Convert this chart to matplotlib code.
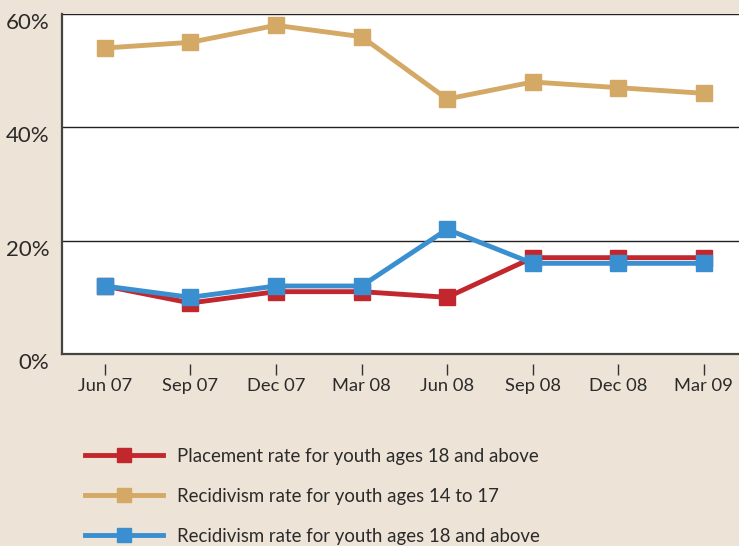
import matplotlib

matplotlib.use("Agg")
import matplotlib.pyplot as plt
import matplotlib.transforms as mtransforms

# データ
QUARTERS = ["Jun 07", "Sep 07", "Dec 07", "Mar 08", "Jun 08", "Sep 08", "Dec 08", "Mar 09"]
PLACEMENT_18_UP = [12, 9, 11, 11, 10, 17, 17, 17]
RECIDIVISM_14_17 = [54, 55, 58, 56, 45, 48, 47, 46]
RECIDIVISM_18_UP = [12, 10, 12, 12, 22, 16, 16, 16]
Y_TICKS = [0, 20, 40, 60]

LABELS = [
    "Placement rate for youth ages 18 and above",
    "Recidivism rate for youth ages 14 to 17",
    "Recidivism rate for youth ages 18 and above",
]
COLORS = ["#C1272D", "#D4A865", "#3A8FD0"]
BG = "#EDE3D6"
TEXT = "#2B2B2B"

plt.rcParams["font.family"] = ["Lato", "DejaVu Sans"]

fig = plt.figure(figsize=(7.39, 5.46), dpi=100, facecolor=BG)
ax = fig.add_axes([62 / 739, 192 / 546, 677 / 739, 340 / 546])
ax.set_facecolor("white")

xs = list(range(len(QUARTERS)))
handles = []
for values, color, label, z in [
    (PLACEMENT_18_UP, COLORS[0], LABELS[0], 3),
    (RECIDIVISM_14_17, COLORS[1], LABELS[1], 2),
    (RECIDIVISM_18_UP, COLORS[2], LABELS[2], 4),
]:
    (line,) = ax.plot(
        xs, values, color=color, linewidth=3.5, marker="s", markersize=11.5,
        label=label, zorder=z, solid_joinstyle="miter",
    )
    handles.append(line)

ax.set_xlim(-0.5, 7.41)
ax.set_ylim(0, 60)
ax.set_yticks(Y_TICKS)
ax.set_yticklabels([f"{v}%" for v in Y_TICKS], fontsize=16, color=TEXT)
ax.tick_params(axis="y", length=0, pad=9)
for v in Y_TICKS[1:]:
    ax.axhline(v, color="#222222", linewidth=1.0, zorder=1)

# ラベルを少し下にずらす
offset = mtransforms.ScaledTranslation(0, -5 / 72, fig.dpi_scale_trans)
for lbl in ax.get_yticklabels():
    lbl.set_transform(lbl.get_transform() + offset)

ax.set_xticks([])
for side in ["top", "right"]:
    ax.spines[side].set_visible(False)
for side in ["left", "bottom"]:
    ax.spines[side].set_color("#444444")
    ax.spines[side].set_linewidth(1.6)

# 軸から離れた目盛り
secax = ax.secondary_xaxis(-0.03)
secax.set_xticks(xs)
secax.set_xticklabels(QUARTERS, fontsize=13.2, color=TEXT)
secax.tick_params(axis="x", length=8, width=1, color="#333333", pad=2)
secax.spines["bottom"].set_visible(False)

leg = fig.legend(
    handles=handles, loc="upper left", bbox_to_anchor=(85 / 739, 0.18),
    frameon=False, fontsize=13.4, handlelength=4.2, handletextpad=0.75,
    labelspacing=1.23, borderpad=0, borderaxespad=0, markerscale=0.85,
)
for t in leg.get_texts():
    t.set_color(TEXT)

fig.savefig("out.png", dpi=100, facecolor=BG)
